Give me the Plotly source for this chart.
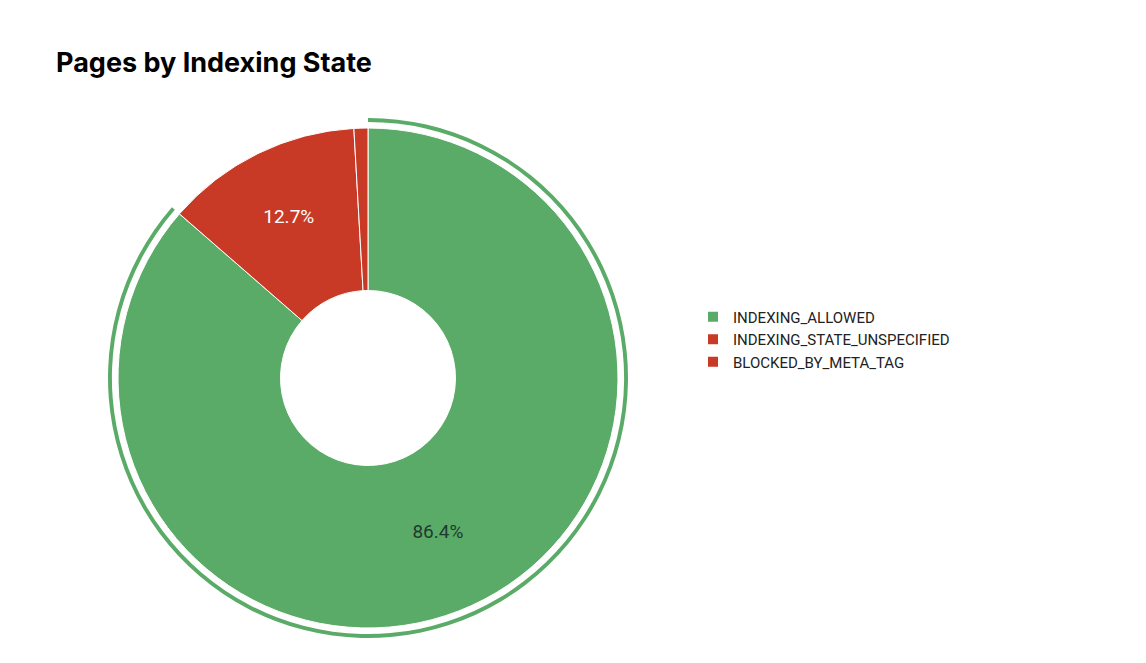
import plotly.graph_objects as go

labels = ["INDEXING_ALLOWED", "INDEXING_STATE_UNSPECIFIED", "BLOCKED_BY_META_TAG"]
values = [86.4, 12.7, 0.9]
colors = ["#5aab67", "#c93a26", "#c93a26"]
text_labels = ["86.4%", "12.7%", ""]

W, H = 1146, 663
def dom(cx, cy, r):
    return dict(x=[(cx - r) / W, (cx + r) / W], y=[1 - (cy + r) / H, 1 - (cy - r) / H])

fig = go.Figure()
fig.add_trace(go.Pie(
    labels=labels, values=values, sort=False, direction="clockwise", rotation=0,
    marker=dict(colors=["#5aab67", "rgba(0,0,0,0)", "rgba(0,0,0,0)"], line=dict(width=0)),
    hole=0.985, textinfo="none", hoverinfo="skip", showlegend=False,
    domain=dom(360, 370, 260),
))
fig.add_trace(go.Pie(
    labels=labels, values=values, sort=False, direction="clockwise", rotation=0,
    marker=dict(colors=colors, line=dict(color="white", width=1)),
    hole=0.35, text=text_labels, textinfo="text", textposition="inside",
    insidetextfont=dict(size=19, color=["#1f3a2e", "white", "white"], family="Roboto"),
    domain=dom(360, 370, 250),
))
fig.update_layout(
    width=W, height=H, paper_bgcolor="white", plot_bgcolor="white",
    margin=dict(l=0, r=0, t=0, b=0),
    title=dict(text="<b>Pages by Indexing State</b>", x=48 / W, xanchor="left", y=1 - 55 / H, yanchor="middle",
               font=dict(size=27, family="Inter", color="black")),
    legend=dict(x=685 / W, y=0.5, xanchor="left", yanchor="middle",
                font=dict(size=15, family="Roboto", color="#222"), itemsizing="constant",
                tracegroupgap=0),
)
fig.write_html("out.html")
